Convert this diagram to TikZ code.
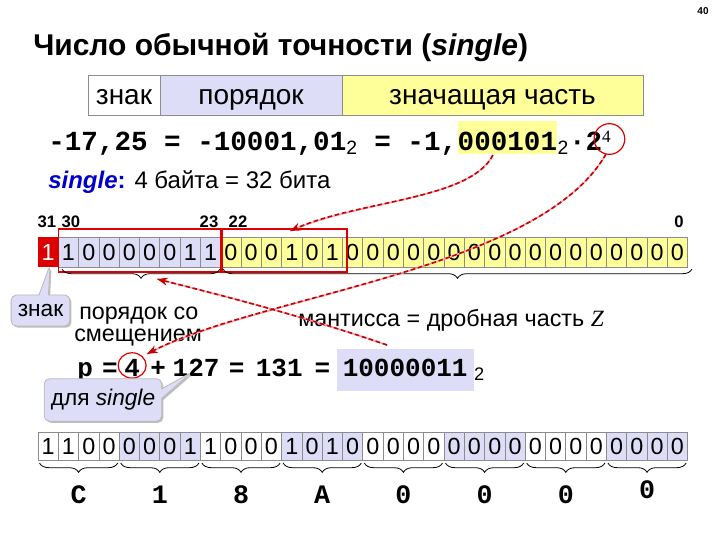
\documentclass[tikz,border=0pt]{standalone}
\usepackage{fontspec}
\setmainfont{Liberation Sans}
\newfontfamily\sansf{Liberation Sans}
\newfontfamily\monof{Liberation Mono}
\newfontfamily\seriff{Liberation Serif}
\usetikzlibrary{decorations.pathreplacing,shapes.callouts,shadows,arrows.meta,calc}
\definecolor{lav}{HTML}{DDDDF7}
\definecolor{yel}{HTML}{FFFF99}
\definecolor{cellgray}{HTML}{8C8C8C}
\definecolor{sred}{HTML}{DD0000}
\definecolor{ared}{HTML}{C80000}
\definecolor{apink}{HTML}{F4A8B0}
\definecolor{sblue}{HTML}{0000CC}
\tikzset{
  cell/.style={draw=cellgray, line width=0.6pt},
  bitd/.style={font=\fontsize{17.5}{18}\selectfont, inner sep=0},
  bitnum/.style={font=\fontsize{12.5}{14}\selectfont\bfseries, anchor=base, inner sep=0},
  hexf/.style={font=\monof\bfseries\fontsize{20}{22}\selectfont, anchor=base, inner sep=0},
  eqf/.style={font=\monof\bfseries\fontsize{20.7}{22}\selectfont, anchor=base west, inner sep=0},
  pf/.style={font=\monof\bfseries\fontsize{19.5}{22}\selectfont, anchor=base west, inner sep=0},
  txt/.style={font=\fontsize{17.5}{19}\selectfont, anchor=base west, inner sep=0},
  tabtxt/.style={font=\fontsize{21}{22}\selectfont, anchor=base, inner sep=0},
  dasharrow/.style={ared, line width=1.2pt, dash pattern=on 3.5pt off 2pt,
     -{Stealth[length=8pt,width=6pt]},
     preaction={draw=apink, solid, line width=1.2pt, arrows=-}},
  callbox/.style={rectangle callout, rounded corners=4pt, fill=lav, draw=gray!55,
     line width=0.6pt, drop shadow={shadow xshift=1.2pt, shadow yshift=-1.2pt, fill=gray!50, opacity=1},
     font=\fontsize{17}{18}\selectfont},
  brc/.style={decorate, decoration={brace, mirror, amplitude=7pt}, line width=0.6pt},
}
\begin{document}
\begin{tikzpicture}[x=0.75pt,y=-0.75pt]
\useasboundingbox (0,0) rectangle (720,540);
% page number
\node[font=\fontsize{7.5}{8}\selectfont\bfseries] (pg) at (703,11) {40};
% title
\node[anchor=base west, inner sep=0, font=\fontsize{22.5}{24}\selectfont\bfseries] (title) at (33,55)
  {Число обычной точности (\textit{single})};
% format table
\fill[white] (88,75) rectangle (160,115);
\fill[lav] (160,75) rectangle (342,115);
\fill[yel] (342,75) rectangle (643,115);
\draw[cell] (88,75) rectangle (643,115) (160,75) -- (160,115) (342,75) -- (342,115);
\node[tabtxt] (tz) at (124,104) {знак};
\node[tabtxt] (tp) at (251,104) {порядок};
\node[tabtxt] (tm) at (492.5,104) {значащая часть};
% equation
\node[eqf] (eqa) at (48,150) {-17,25 = -10001,01\textsubscript{\sansf\mdseries 2} = -1,};
\node[eqf, fill=yel, text height=21.5pt, text depth=3pt] (mant) at (eqa.base east) {000101};
\node[eqf] (eqb) at (mant.base east) {\textsubscript{\sansf\mdseries 2}·2};
\node[font=\seriff\fontsize{13}{14}\selectfont, inner sep=0] (sup4) at ($(eqb.base east)+(4,-13)$) {4};
\node[draw=sred, line width=0.9pt, circle, minimum size=23pt, inner sep=0] (supc) at ($(sup4.center)+(3,2)$) {};
% single line
\node[txt, font=\fontsize{18}{19}\selectfont] (sing) at (48,188) {\textcolor{sblue}{\bfseries\itshape single}\textcolor{sblue}{\bfseries :} 4 байта = 32 бита};
% bit numbers
\node[bitnum] (n31) at (47,227) {31};
\node[bitnum] (n30) at (71,227) {30};
\node[bitnum] (n23) at (209,227) {23};
\node[bitnum] (n22) at (238,227) {22};
\node[bitnum] (n0) at (679,227) {0};
% top bit row
\def\w{20.3}
\fill[sred] (38,237) rectangle ++(\w,30);
\node[bitd, text=white] (s0) at ({38+0.5*\w},252) {1};
\foreach \b [count=\i from 1] in {1,0,0,0,0,0,1,1} {
  \draw[cell, fill=lav] ({38+\i*\w},237) rectangle ++(\w,30);
  \node[bitd] (e\i) at ({38+(\i+0.5)*\w},252) {\b};
}
\foreach \b [count=\i from 9] in {0,0,0,1,0,1,0,0,0,0,0,0,0,0,0,0,0,0,0,0,0,0,0} {
  \draw[cell, fill=yel] ({38+\i*\w},237) rectangle ++(\w,30);
  \node[bitd] (m\i) at ({38+(\i+0.5)*\w},252) {\b};
}
% red frames
\draw[sred, line width=0.9pt] (58.5,229) rectangle (220.5,272);
\draw[sred, line width=0.9pt] (222,229) rectangle (347,272);
% braces
\draw[brc] (62,269) -- (220,269);
\draw[brc] (223,269) -- (692,269);
% callout znak
\node[callbox, callout absolute pointer={(50,265)}, anchor=center, inner xsep=5pt, inner ysep=7pt] (cz) at (40.5,310.5) {знак};
\node[txt] (por1) at (79,319) {порядок со};
\node[txt] (por2) at (74,341) {смещением};
\node[txt] (mantxt) at (298,326) {мантисса = дробная часть \textit{\seriff Z}};
% p formula
\node[pf] (pa) at (77,376) {p\hspace{7pt}=};
\node[pf] (p4) at ($(pa.base east)+(6,0)$) {4};
\node[pf] (pb) at ($(p4.base east)+(10,0)$) {+\hspace{5pt}127\hspace{7pt}=\hspace{8.5pt}131\hspace{9pt}=};
\node[pf, fill=lav, inner xsep=4.5pt, text height=20pt, text depth=11pt] (pbin) at ($(pb.base east)+(6,0)$) {10000011};
\node[pf, anchor=base west] (psub) at (pbin.base east) {\textsubscript{\sansf\mdseries 2}};
\draw[sred, line width=0.9pt] ($(p4.center)+(0,-2)$) ellipse [x radius=10.5pt, y radius=9.5pt];
% callout dlya single
\node[callbox, callout absolute pointer={(192,372)}, anchor=center, inner xsep=5pt, inner ysep=8pt] (cs) at (103,400) {для \textit{single}};
% bottom bit row
\foreach \b [count=\i from 0] in {1,1,0,0,0,0,0,1,1,0,0,0,1,0,1,0,0,0,0,0,0,0,0,0,0,0,0,0,0,0,0,0} {
  \pgfmathtruncatemacro\g{mod(floor(\i/4),2)}
  \ifnum\g=1 \def\cc{lav}\else\def\cc{white}\fi
  \draw[cell, fill=\cc] ({38+\i*\w},432) rectangle ++(\w,28);
  \node[bitd] (b\i) at ({38+(\i+0.5)*\w},446) {\b};
}
\foreach \g in {0,...,7} {
  \draw[brc] ({38+\g*4*\w+1.5},463) -- ({38+(\g+1)*4*\w-1.5},463);
}
\foreach \h [count=\g from 0] in {C,1,8,A,0,0,0} {
  \node[hexf] (h\g) at ({38+(\g*4+2)*\w},503) {\h};
}
\node[hexf] (h7) at ({38+(7*4+2)*\w},498) {0};
% arrows
\coordinate (a1s) at (493,155);
\coordinate (a1e) at (290,231);
\draw[dasharrow] (a1s) .. controls (470,200) and (360,200) .. (a1e);
\coordinate (a2s) at (606,154);
\coordinate (a2e) at (147,354);
\draw[dasharrow] (a2s) .. controls (540,270) and (260,295) .. (a2e);
\coordinate (a3s) at (387,345);
\coordinate (a3e) at (157,279);
\draw[dasharrow] (a3s) .. controls (300,315) and (220,295) .. (a3e);
\end{tikzpicture}
\end{document}
